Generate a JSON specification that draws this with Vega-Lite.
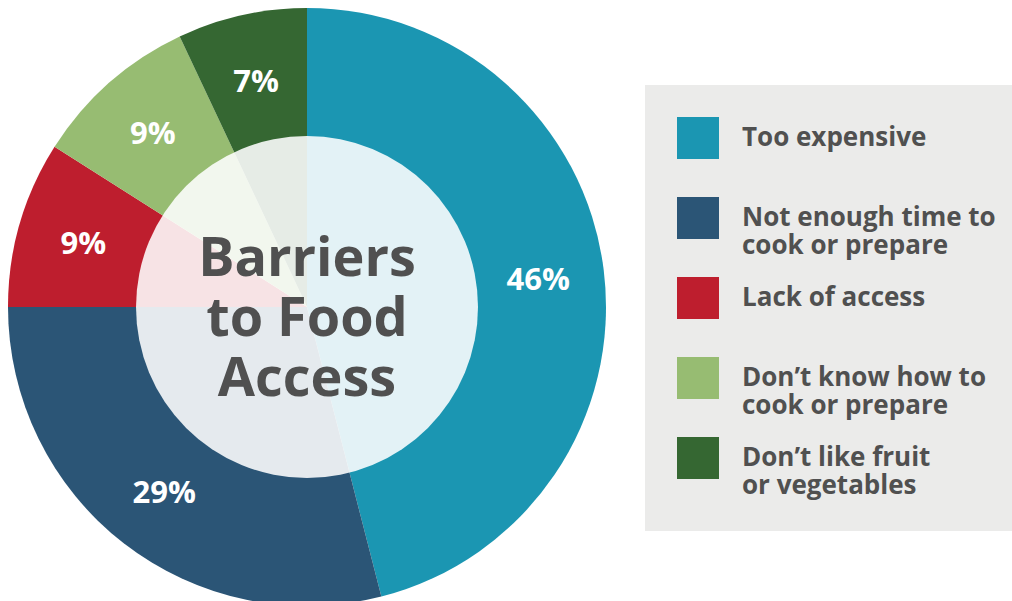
{
  "$schema": "https://vega.github.io/schema/vega-lite/v6.json",
  "width": 614,
  "height": 614,
  "autosize": {"type": "pad"},
  "padding": 0,
  "background": "white",
  "config": {"view": {"stroke": null}},
  "layer": [
    {
      "data": {"values": [
        {"category": "Too expensive", "value": 46, "label": "46%", "order": 1},
        {"category": "Not enough time to cook or prepare", "value": 29, "label": "29%", "order": 2},
        {"category": "Lack of access", "value": 9, "label": "9%", "order": 3},
        {"category": "Don’t know how to cook or prepare", "value": 9, "label": "9%", "order": 4},
        {"category": "Don’t like fruit or vegetables", "value": 7, "label": "7%", "order": 5}
      ]},
      "encoding": {
        "theta": {"field": "value", "type": "quantitative", "stack": true},
        "order": {"field": "order", "type": "quantitative"},
        "color": {
          "field": "category",
          "type": "nominal",
          "scale": {
            "domain": ["Too expensive", "Not enough time to cook or prepare", "Lack of access", "Don’t know how to cook or prepare", "Don’t like fruit or vegetables"],
            "range": ["#1b96b2", "#2b5576", "#be1e2e", "#97bc72", "#356732"]
          },
          "legend": {
            "title": null,
            "orient": "none",
            "legendX": 645,
            "legendY": 85,
            "fillColor": "#ebebea",
            "padding": 32,
            "symbolType": "square",
            "symbolSize": 1764,
            "symbolStrokeWidth": 0,
            "symbolOpacity": 1,
            "labelFont": "Open Sans",
            "labelFontWeight": "bold",
            "labelFontSize": 26,
            "labelLineHeight": 29,
            "labelColor": "#505050",
            "labelOffset": 23,
            "labelLimit": 400,
            "labelBaseline": "middle",
            "gridAlign": "all",
            "rowPadding": 18,
            "labelExpr": "datum.label == 'Not enough time to cook or prepare' ? ['Not enough time to', 'cook or prepare'] : datum.label == 'Don’t know how to cook or prepare' ? ['Don’t know how to', 'cook or prepare'] : datum.label == 'Don’t like fruit or vegetables' ? ['Don’t like fruit', 'or vegetables'] : datum.label"
          }
        }
      },
      "layer": [
        {"mark": {"type": "arc", "outerRadius": 299, "innerRadius": 0}},
        {
          "mark": {"type": "text", "radius": 233, "font": "Open Sans", "fontWeight": "bold", "fontSize": 31, "fill": "white", "dy": 3},
          "encoding": {"text": {"field": "label", "type": "nominal"}, "color": {"value": "white"}}
        }
      ]
    },
    {
      "data": {"values": [{"title": ["Barriers", "to Food", "Access"]}]},
      "layer": [
        {"mark": {"type": "arc", "outerRadius": 171, "innerRadius": 0, "fill": "white", "fillOpacity": 0.88}, "encoding": {}},
        {
          "mark": {"type": "text", "font": "Open Sans", "fontWeight": "bold", "fontSize": 54, "lineHeight": 60, "fill": "#505050", "align": "center", "baseline": "middle", "dy": -47},
          "encoding": {"text": {"field": "title", "type": "nominal"}}
        }
      ]
    }
  ]
}
